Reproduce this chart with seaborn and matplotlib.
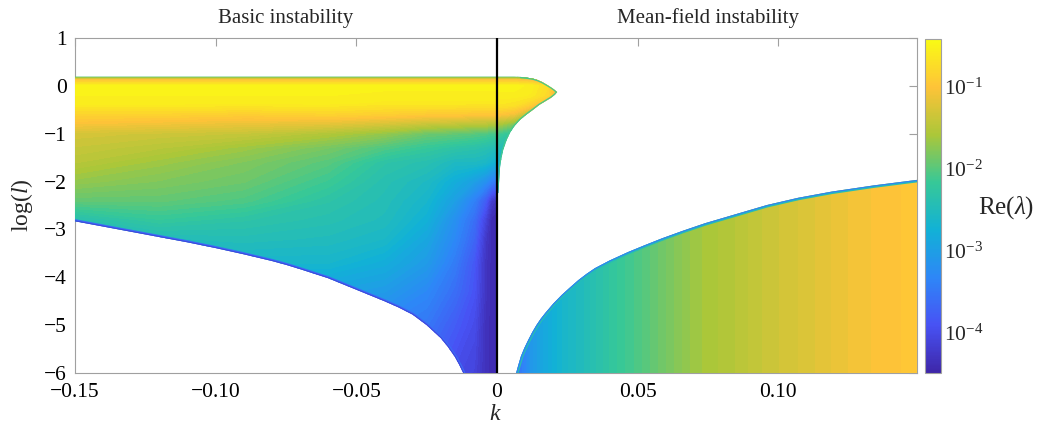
import numpy as np
import matplotlib
matplotlib.use("Agg")
import matplotlib.pyplot as plt
from matplotlib.colors import Normalize, LogNorm
from matplotlib.patches import Polygon
from matplotlib.transforms import blended_transform_factory
import matplotlib.cm as cm
import seaborn as sns

# ---------------- data (log10 Re(lambda)) ----------------
# colour scale limits (log10)
log_min = -4.49
log_max = -0.415

# Basic instability (k < 0): grid of log10 growth rates
k_left = [-0.15, -0.12, -0.09, -0.06, -0.04, -0.025, -0.015, -0.008, -0.004, -0.002, 0.0]
y_left = [0.19, 0.12, 0.0, -0.35, -0.6, -0.8, -1.0, -1.3, -1.6, -2.0, -2.4, -2.8, -3.2, -3.7, -4.3, -5.0, -6.0]
v_left = [
    [-2.0, -2.0, -2.0, -2.0, -2.0, -2.0, -2.0, -2.0, -2.0, -2.0, -2.0],
    [-1.0, -1.0, -1.0, -1.0, -1.0, -1.0, -1.0, -1.0, -1.0, -1.0, -1.0],
    [-0.5, -0.5, -0.5, -0.5, -0.5, -0.5, -0.5, -0.5, -0.5, -0.5, -0.5],
    [-0.55, -0.55, -0.55, -0.55, -0.6, -0.6, -0.6, -0.6, -0.6, -0.6, -0.6],
    [-0.85, -0.85, -0.9, -0.85, -0.9, -0.95, -0.95, -1.0, -1.0, -1.0, -1.0],
    [-1.05, -1.1, -1.15, -1.2, -1.3, -1.4, -1.45, -1.5, -1.5, -1.55, -1.55],
    [-1.3, -1.35, -1.4, -1.55, -1.7, -1.9, -1.95, -2.0, -2.05, -2.1, -2.1],
    [-1.4, -1.5, -1.65, -1.85, -2.05, -2.2, -2.3, -2.35, -2.4, -2.45, -2.5],
    [-1.5, -1.65, -1.8, -2.0, -2.3, -2.4, -2.55, -2.55, -2.6, -2.7, -2.75],
    [-1.7, -1.8, -1.9, -2.15, -2.4, -2.55, -2.8, -3.0, -3.2, -3.4, -3.5],
    [-1.95, -1.95, -2.05, -2.3, -2.45, -2.65, -3.0, -3.4, -3.8, -4.2, -4.3],
    [-2.4, -2.2, -2.3, -2.4, -2.5, -2.75, -3.2, -3.6, -4.1, -4.4, -4.45],
    [-2.8, -2.5, -2.45, -2.5, -2.6, -2.9, -3.3, -3.7, -4.25, -4.4, -4.45],
    [-2.8, -2.8, -2.65, -2.65, -2.8, -3.05, -3.45, -3.85, -4.3, -4.4, -4.45],
    [-3.0, -3.0, -3.0, -2.95, -3.05, -3.3, -3.6, -3.9, -4.3, -4.4, -4.45],
    [-3.3, -3.3, -3.3, -3.3, -3.35, -3.5, -3.8, -4.0, -4.35, -4.4, -4.45],
    [-3.6, -3.6, -3.6, -3.6, -3.6, -3.75, -4.0, -4.1, -4.35, -4.4, -4.45],
]
# lower edge of the unstable region for k < 0
left_bound_k = [-0.150, -0.140, -0.130, -0.120, -0.110, -0.100, -0.090, -0.080, -0.075,
                -0.070, -0.060, -0.050, -0.045, -0.040, -0.035, -0.030, -0.025, -0.020,
                -0.0175, -0.015, -0.0135, -0.012]
left_bound_y = [-2.83, -2.94, -3.05, -3.16, -3.27, -3.39, -3.52, -3.66, -3.74,
                -3.83, -4.02, -4.26, -4.38, -4.50, -4.63, -4.78, -5.00, -5.27,
                -5.45, -5.66, -5.82, -6.00]
left_top_y = 0.19

# Mean-field instability, small lobe near k = 0
k_blob = [0.0, 0.006, 0.012, 0.018, 0.0215]
y_blob = [0.19, 0.12, 0.0, -0.2, -0.4, -0.6, -0.8, -1.0, -1.3, -1.6, -2.0, -2.3]
v_blob = [
    [-2.0, -2.0, -2.1, -2.2, -2.3],
    [-1.0, -1.0, -1.05, -1.6, -2.0],
    [-0.5, -0.5, -0.55, -0.75, -1.2],
    [-0.55, -0.55, -0.6, -0.8, -1.3],
    [-0.65, -0.7, -0.9, -1.4, -1.9],
    [-1.0, -1.1, -1.6, -2.2, -2.3],
    [-1.55, -1.8, -2.2, -2.3, -2.3],
    [-2.1, -2.3, -2.4, -2.4, -2.4],
    [-2.45, -2.5, -2.5, -2.5, -2.5],
    [-2.7, -2.7, -2.7, -2.7, -2.7],
    [-3.3, -3.3, -3.3, -3.3, -3.3],
    [-3.6, -3.6, -3.6, -3.6, -3.6],
]
blob_bound_k = [0.0, 0.006, 0.0085, 0.0107, 0.0128, 0.0145, 0.0162, 0.0178, 0.0192,
                0.0204, 0.0214, 0.0205, 0.0192, 0.0178, 0.0164, 0.0150, 0.0128,
                0.0105, 0.0082, 0.0062, 0.0046, 0.0033, 0.0022, 0.0016, 0.0011,
                0.0008, 0.0005, 0.0]
blob_bound_y = [0.19, 0.19, 0.185, 0.17, 0.15, 0.12, 0.075, 0.02, -0.03,
                -0.08, -0.13, -0.19, -0.25, -0.30, -0.35, -0.40, -0.50,
                -0.60, -0.71, -0.84, -0.98, -1.15, -1.34, -1.50, -1.69,
                -1.95, -2.24, -2.24]

# Mean-field instability, large region (growth varies with k)
k_mf = [0.0065, 0.009, 0.012, 0.016, 0.02, 0.025, 0.03, 0.04, 0.05, 0.06, 0.07,
        0.085, 0.095, 0.11, 0.125, 0.14, 0.15]
v_mf = [-3.8, -3.4, -3.1, -2.9, -2.75, -2.6, -2.5, -2.25, -2.05, -1.85, -1.65,
        -1.5, -1.38, -1.25, -1.1, -1.0, -0.97]
y_mf = [-6.0, -1.9]
mf_bound_k = [0.0068, 0.0075, 0.0085, 0.0097, 0.0111, 0.0125, 0.0140, 0.0155, 0.0171,
              0.0200, 0.0230, 0.0260, 0.0289, 0.0318, 0.0348, 0.0400, 0.0467, 0.0525,
              0.0585, 0.0660, 0.0740, 0.0850, 0.0960, 0.1070, 0.1190, 0.1340, 0.1500]
mf_bound_y = [-6.00, -5.85, -5.65, -5.48, -5.31, -5.15, -5.00, -4.87, -4.75,
              -4.55, -4.37, -4.21, -4.06, -3.93, -3.81, -3.65, -3.47, -3.33,
              -3.19, -3.03, -2.87, -2.68, -2.49, -2.34, -2.21, -2.08, -1.96]

# ticks / labels
x_ticks = [-0.15, -0.10, -0.05, 0.0, 0.05, 0.10]
x_tick_labels = ["\u22120.15", "\u22120.10", "\u22120.05", "0", "0.05", "0.10"]
y_ticks = [1, 0, -1, -2, -3, -4, -5, -6]
y_tick_labels = ["1", "0", "\u22121", "\u22122", "\u22123", "\u22124", "\u22125", "\u22126"]
titles = ["Basic instability", "Mean-field instability"]
title_k = [-0.075, 0.075]

# parula-like anchors
parula_anchors = [(0.2422, 0.1504, 0.6603), (0.2810, 0.3228, 0.9579),
                  (0.1786, 0.5289, 0.9682), (0.0689, 0.6948, 0.8394),
                  (0.2161, 0.7843, 0.5923), (0.6720, 0.7793, 0.2227),
                  (0.9970, 0.7659, 0.2199), (0.9769, 0.9839, 0.0805)]

# ---------------- style ----------------
sns.set_theme(style="white")
plt.rcParams["font.family"] = ["Liberation Serif", "DejaVu Serif"]
plt.rcParams["mathtext.fontset"] = "custom"
plt.rcParams["mathtext.rm"] = "Liberation Serif"
plt.rcParams["mathtext.it"] = "Liberation Serif:italic"
plt.rcParams["mathtext.bf"] = "Liberation Serif:bold"
plt.rcParams["axes.unicode_minus"] = True

parula = sns.blend_palette(parula_anchors, n_colors=256, as_cmap=True)
norm = Normalize(vmin=log_min, vmax=log_max)
levels = np.linspace(log_min, log_max, 72)
gray = "#a0a0a0"

fig = plt.figure(figsize=(10.42, 4.32), dpi=100)
ax = fig.add_axes([0.0720, 0.1366, 0.8078, 0.7755])
cax = fig.add_axes([0.8877, 0.1366, 0.0154, 0.7732])


def clip_patch(verts):
    p = Polygon(verts, closed=True, transform=ax.transData,
                facecolor="none", edgecolor="none")
    ax.add_patch(p)
    return p


def fringe(kk, yy, patch, specs):
    for lw, val in specs:
        ln, = ax.plot(kk, yy, color=parula(norm(val)), lw=lw, zorder=3.5,
                      solid_joinstyle="round")
        ln.set_clip_path(patch)


# left region
left_verts = ([(k_left[0], left_top_y), (0.0, left_top_y), (0.0, -6.0)]
              + list(zip(left_bound_k[::-1], left_bound_y[::-1])))
p_left = clip_patch(left_verts)
K, Y = np.meshgrid(k_left, y_left)
cs = ax.contourf(K, Y, np.array(v_left), levels=levels, cmap=parula, norm=norm,
                 extend="both", zorder=3, antialiased=False)
cs.set_clip_path(p_left)
fringe(left_bound_k, left_bound_y, p_left, [(3.0, -3.6), (1.4, -4.1)])

# blob
p_blob = clip_patch(list(zip(blob_bound_k, blob_bound_y)))
K, Y = np.meshgrid(k_blob, y_blob)
cs = ax.contourf(K, Y, np.array(v_blob), levels=levels, cmap=parula, norm=norm,
                 extend="both", zorder=3, antialiased=False)
cs.set_clip_path(p_blob)
fringe(blob_bound_k[2:-1], blob_bound_y[2:-1], p_blob, [(1.8, -2.1)])

# mean-field region
mf_verts = list(zip(mf_bound_k, mf_bound_y)) + [(0.16, -1.96), (0.16, -6.0)]
p_mf = clip_patch(mf_verts)
K, Y = np.meshgrid(k_mf, y_mf)
cs = ax.contourf(K, Y, np.array([v_mf, v_mf]), levels=levels, cmap=parula, norm=norm,
                 extend="both", zorder=3, antialiased=False)
cs.set_clip_path(p_mf)
fringe(mf_bound_k, mf_bound_y, p_mf, [(3.6, -2.45), (1.6, -3.4)])

ax.axvline(0.0, color="black", lw=1.6, zorder=4)

ax.set_xlim(-0.15, 0.1492)
ax.set_ylim(-6, 1)
ax.set_xticks(x_ticks)
ax.set_xticklabels(x_tick_labels)
ax.set_yticks(y_ticks)
ax.set_yticklabels(y_tick_labels)
ax.tick_params(direction="in", top=True, right=True, length=6, width=0.8,
               color=gray, labelcolor="black", labelsize=15.5)
ax.tick_params(axis="x", pad=7)
ax.tick_params(axis="y", pad=6)
for s in ax.spines.values():
    s.set_color(gray)
    s.set_linewidth(0.8)
    s.set_visible(True)

ax.set_xlabel(r"$k$", fontsize=17, labelpad=2)
ax.set_ylabel(r"$\log(l)$", fontsize=17)
ax.yaxis.set_label_coords(-0.047, 0.5)

tr = blended_transform_factory(ax.transData, ax.transAxes)
for t, kk in zip(titles, title_k):
    ax.text(kk, 1.045, t, transform=tr, ha="center", va="baseline", fontsize=15)

# colorbar
sm = cm.ScalarMappable(norm=LogNorm(10 ** log_min, 10 ** log_max), cmap=parula)
cb = fig.colorbar(sm, cax=cax)
cb.outline.set_edgecolor(gray)
cb.outline.set_linewidth(0.8)
cax.tick_params(which="major", direction="in", length=6, width=0.8, color=gray,
                labelsize=15.5, pad=2)
cax.tick_params(which="minor", direction="in", length=3, width=0.6, color=gray)
fig.text(1006 / 1042, 1 - 208 / 432, r"Re($\lambda$)", ha="center", va="center", fontsize=18)

fig.savefig("out.png", dpi=100)
